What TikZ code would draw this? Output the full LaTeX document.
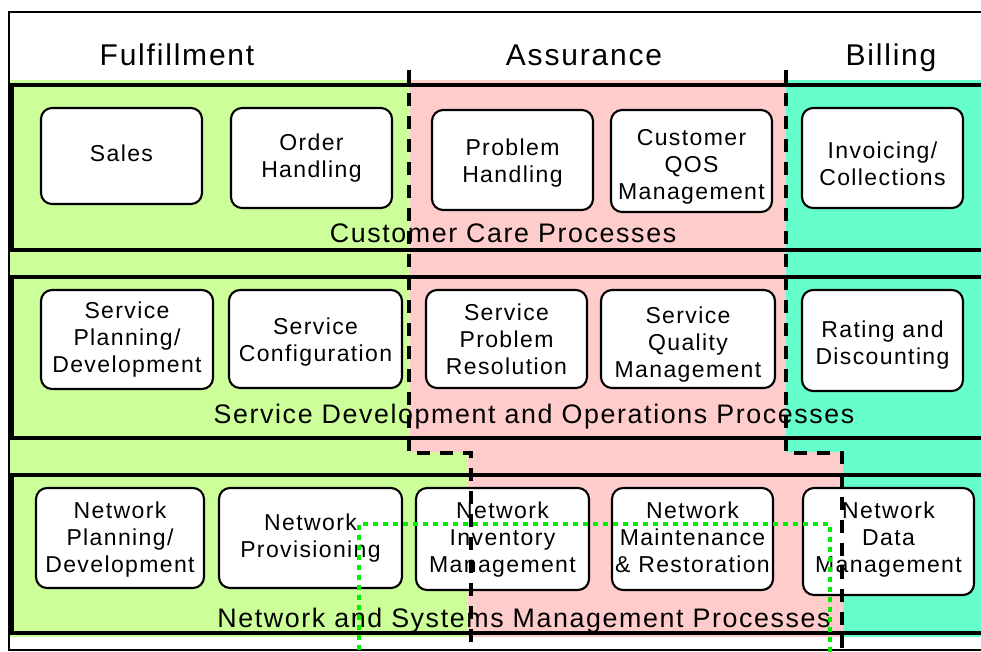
\documentclass[tikz,border=0pt]{standalone}
\usepackage{fontspec}
\setmainfont{Liberation Sans}[LetterSpace=6.0]
\definecolor{fulfil}{HTML}{CCFF99}
\definecolor{assure}{HTML}{FFCCCC}
\definecolor{bill}{HTML}{66FFCC}
\definecolor{tracegreen}{HTML}{00EE00}

\begin{document}
\begin{tikzpicture}[x=1pt, y=-1pt,
  box/.style={draw, line width=2.1pt, rounded corners=11pt, fill=white},
  boxtext/.style={align=center, inner sep=0pt, font=\fontsize{23}{27}\selectfont},
  layer/.style={draw, line width=3.4pt},
  layertext/.style={anchor=base, inner sep=0pt, font=\fontsize{26.8}{30}\selectfont},
  head/.style={anchor=base, inner sep=0pt, font=\fontsize{30}{34}\selectfont},
  split/.style={line width=4.8pt, dash pattern=on 13pt off 10pt},
  trace/.style={tracegreen, line width=4.5pt, dash pattern=on 5pt off 5pt}]

% the page
\useasboundingbox (0,0) rectangle (981,651);
\clip (0,0) rectangle (981,651);

% the three areas
\fill[fulfil] (9,80) -- (410,80) -- (410,452) -- (468,452) -- (468,637) -- (9,637) -- cycle;
\fill[assure] (410,80) -- (786,80) -- (786,452) -- (843,452) -- (843,637) -- (468,637) -- (468,452) -- (410,452) -- cycle;
\fill[bill] (786,80) -- (1000,80) -- (1000,637) -- (843,637) -- (843,452) -- (786,452) -- cycle;

% the frame
\draw[line width=1.6pt] (9,12) rectangle (1000,650);

% the layers
\draw[layer] (12,85) rectangle (1000,250);
\draw[layer] (12,277) rectangle (1000,438);
\draw[layer] (12,475) rectangle (1000,633);

\node[layertext] (care) at (503,242) {Customer Care Processes};
\node[layertext] (service) at (534,423) {Service Development and Operations Processes};
\node[layertext] (network) at (524,627) {Network and Systems Management Processes};

% headings
\node[head] (fulfilment) at (177,65) {Fulfillment};
\node[head] (assurance) at (584,65) {Assurance};
\node[head] (billing) at (891,65) {Billing};

% customer care
\draw[box] (41,108) rectangle (202,204);
\draw[box] (231,108) rectangle (392,208);
\draw[box] (432,110) rectangle (593,210);
\draw[box] (611,110) rectangle (772,212);
\draw[box] (802,108) rectangle (963,208);
\node[boxtext] (sales) at (121.5,153) {Sales};
\node[boxtext] (order) at (311.5,158) {Order\\Handling};
\node[boxtext] (problem) at (512.5,163) {Problem\\Handling};
\node[boxtext] (qos) at (691.5,166.5) {Customer\\QOS\\Management};
\node[boxtext] (invoice) at (882.5,163.5) {Invoicing/\\Collections};

% service development and operations
\draw[box] (41,290) rectangle (213,389);
\draw[box] (229,290) rectangle (402,388);
\draw[box] (426,290) rectangle (587,388);
\draw[box] (601,290) rectangle (775,388);
\draw[box] (802,290) rectangle (963,391);
\node[boxtext] (splan) at (127,339.5) {Service\\Planning/\\Development};
\node[boxtext] (sconf) at (315.5,342) {Service\\Configuration};
\node[boxtext] (sprob) at (506.5,339.5) {Service\\Problem\\Resolution};
\node[boxtext] (squal) at (688,344.5) {Service\\Quality\\Management};
\node[boxtext] (rating) at (882.5,345.5) {Rating and\\Discounting};

% network and systems management
\draw[box] (36,488) rectangle (204,588);
\draw[box] (219,488) rectangle (402,588);
\draw[box] (416,488) rectangle (589,590);
\draw[box] (612,488) rectangle (773,590);
\draw[box] (803,488) rectangle (974,595);
\node[boxtext] (nplan) at (120,540) {Network\\Planning/\\Development};
\node[boxtext] (nprov) at (310.5,538) {Network\\Provisioning};
\node[boxtext] (ninv) at (502.5,540) {Network\\Inventory\\Management};
\node[boxtext] (nmaint) at (692.5,537) {Network\\Maintenance\\\& Restoration};
\node[boxtext] (ndata) at (888.5,539.5) {Network\\Data\\Management};

% borders between the areas
\draw[split] (409,70) -- (409,453) -- (471,453) -- (471,648);
\draw[split] (786,70) -- (786,453) -- (842,453) -- (842,648);

% the green trace
\draw[trace] (359,660) -- (359,524) -- (830,524) -- (830,660);

\end{tikzpicture}
\end{document}
